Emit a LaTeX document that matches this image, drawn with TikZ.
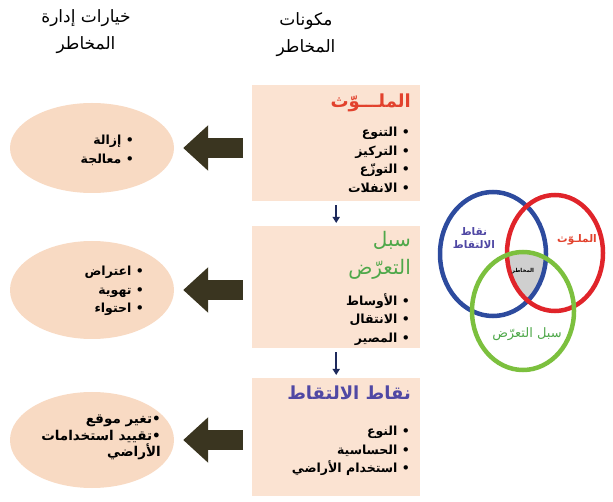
\documentclass[tikz,border=0pt]{standalone}
\usepackage{fontspec}
\usetikzlibrary{shapes.geometric,arrows.meta}
\newfontfamily\arabicfont[Script=Arabic]{DejaVu Sans}
\TeXXeTstate=1
\newcommand{\AR}[1]{\beginR #1\endR}
\definecolor{boxc}{HTML}{FBE3D2}
\definecolor{ellc}{HTML}{F8DAC3}
\definecolor{arrc}{HTML}{3A3520}
\definecolor{navyc}{HTML}{1E2A5C}
\definecolor{redt}{HTML}{E2422D}
\definecolor{greent}{HTML}{4FA84A}
\definecolor{purpt}{HTML}{5048A4}
\definecolor{bluec}{HTML}{2D4B9E}
\definecolor{redc}{HTML}{E0242A}
\definecolor{greenc}{HTML}{7CC03E}
\definecolor{grayc}{HTML}{CFCFCF}
\begin{document}
\begin{tikzpicture}[x=1pt,y=-1pt,
  box/.style={fill=boxc, draw=none, minimum width=168pt, minimum height=118pt, anchor=north west, inner sep=0},
  opt/.style={ellipse, fill=ellc, draw=none, minimum width=164pt, minimum height=92pt, inner sep=0},
  txt/.style={font=\arabicfont\bfseries\fontsize{12.5}{18.5}\selectfont, align=right, anchor=north east, inner sep=0},
  ttl/.style={font=\arabicfont\bfseries\fontsize{18}{28}\selectfont, align=right, anchor=north east, inner sep=0},
  head/.style={font=\arabicfont\fontsize{17}{27}\selectfont, align=center, inner sep=0},
  bigarrow/.style={draw=arrc, line width=20pt, -{Triangle[width=44pt,length=25pt]}, shorten <=9pt, shorten >=9pt},
  smallarrow/.style={draw=navyc, line width=1.8pt, -{Triangle[width=7pt,length=6pt]}, shorten <=4pt, shorten >=3pt},
  ring/.style={line width=4.5pt},
  vlbl/.style={font=\arabicfont\bfseries\fontsize{10.5}{13}\selectfont, align=center, inner sep=0}
]
\useasboundingbox (0,0) rectangle (613,502);

% headings
\node[head] (h1) at (86,32) {\AR{خيارات إدارة}\\\AR{المخاطر}};
\node[head] (h2) at (306,35) {\AR{مكونات}\\\AR{المخاطر}};

% component boxes
\node[box, minimum height=116pt] (b1) at (252,85) {};
\node[box, minimum height=122pt] (b2) at (252,226) {};
\node[box, minimum height=118pt] (b3) at (252,378) {};

\node[ttl, text=redt] (t1) at (411,94) {\AR{الملـــوّث}};
\node[txt] (l1) at (410,127) {\AR{• التنوع}\\\AR{• التركيز}\\\AR{• التوزّع}\\\AR{• الانفلات}};

\node[ttl, text=greent, font=\arabicfont\fontsize{20}{28}\selectfont] (t2) at (411,231) {\AR{سبل}\\\AR{التعرّض}};
\node[txt] (l2) at (410,293) {\AR{• الأوساط}\\\AR{• الانتقال}\\\AR{• المصير}};

\node[ttl, text=purpt] (t3) at (411,386) {\AR{نقاط الالتقاط}};
\node[txt] (l3) at (410,426) {\AR{• النوع}\\\AR{• الحساسية}\\\AR{• استخدام الأراضي}};

\draw[smallarrow] (b1.south) -- (b2.north);
\draw[smallarrow] (b2.south) -- (b3.north);

% option ellipses
\node[opt, minimum height=90pt] (e1) at (92,148) {};
\node[opt, minimum height=98pt] (e2) at (92,290) {};
\node[opt, minimum height=96pt] (e3) at (92,440) {};

\node[txt] (o1) at (134,135) {\AR{• إزالة}\\\AR{• معالجة}};
\node[txt] (o2) at (144,266) {\AR{• اعتراض}\\\AR{• تهوية}\\\AR{• احتواء}};
\node[txt, font=\arabicfont\bfseries\fontsize{13.5}{16.5}\selectfont] (o3) at (161,415) {\AR{•تغير موقع}\\\AR{•تقييد استخدامات}\\\AR{الأراضي\ \ }};

\draw[bigarrow] (b1.west |- e1.east) -- (e1.east);
\draw[bigarrow] (b2.west |- e2.east) -- (e2.east);
\draw[bigarrow] (b3.west |- e3.east) -- (e3.east);

% Venn diagram
\begin{scope}
  \clip (493,254) ellipse [x radius=53pt, y radius=62pt];
  \clip (555,253) ellipse [x radius=48pt, y radius=58pt];
  \fill[grayc] (523,311) ellipse [x radius=51pt, y radius=59pt];
\end{scope}
\draw[ring, draw=bluec] (493,254) ellipse [x radius=53pt, y radius=62pt];
\draw[ring, draw=redc] (555,253) ellipse [x radius=48pt, y radius=58pt];
\draw[ring, draw=greenc] (523,311) ellipse [x radius=51pt, y radius=59pt];

\node[vlbl, text=purpt] (v1) at (474,238) {\AR{نقاط}\\\AR{الالتقاط}};
\node[vlbl, text=redt] (v2) at (577,240) {\AR{الملـوّث}};
\node[vlbl, text=greent, font=\arabicfont\fontsize{13}{15}\selectfont] (v3) at (527,334) {\AR{سبل التعرّض}};
\node[font=\arabicfont\bfseries\fontsize{5.5}{7}\selectfont, inner sep=0] (v4) at (523,271) {\AR{المخاطر}};
\end{tikzpicture}
\end{document}
